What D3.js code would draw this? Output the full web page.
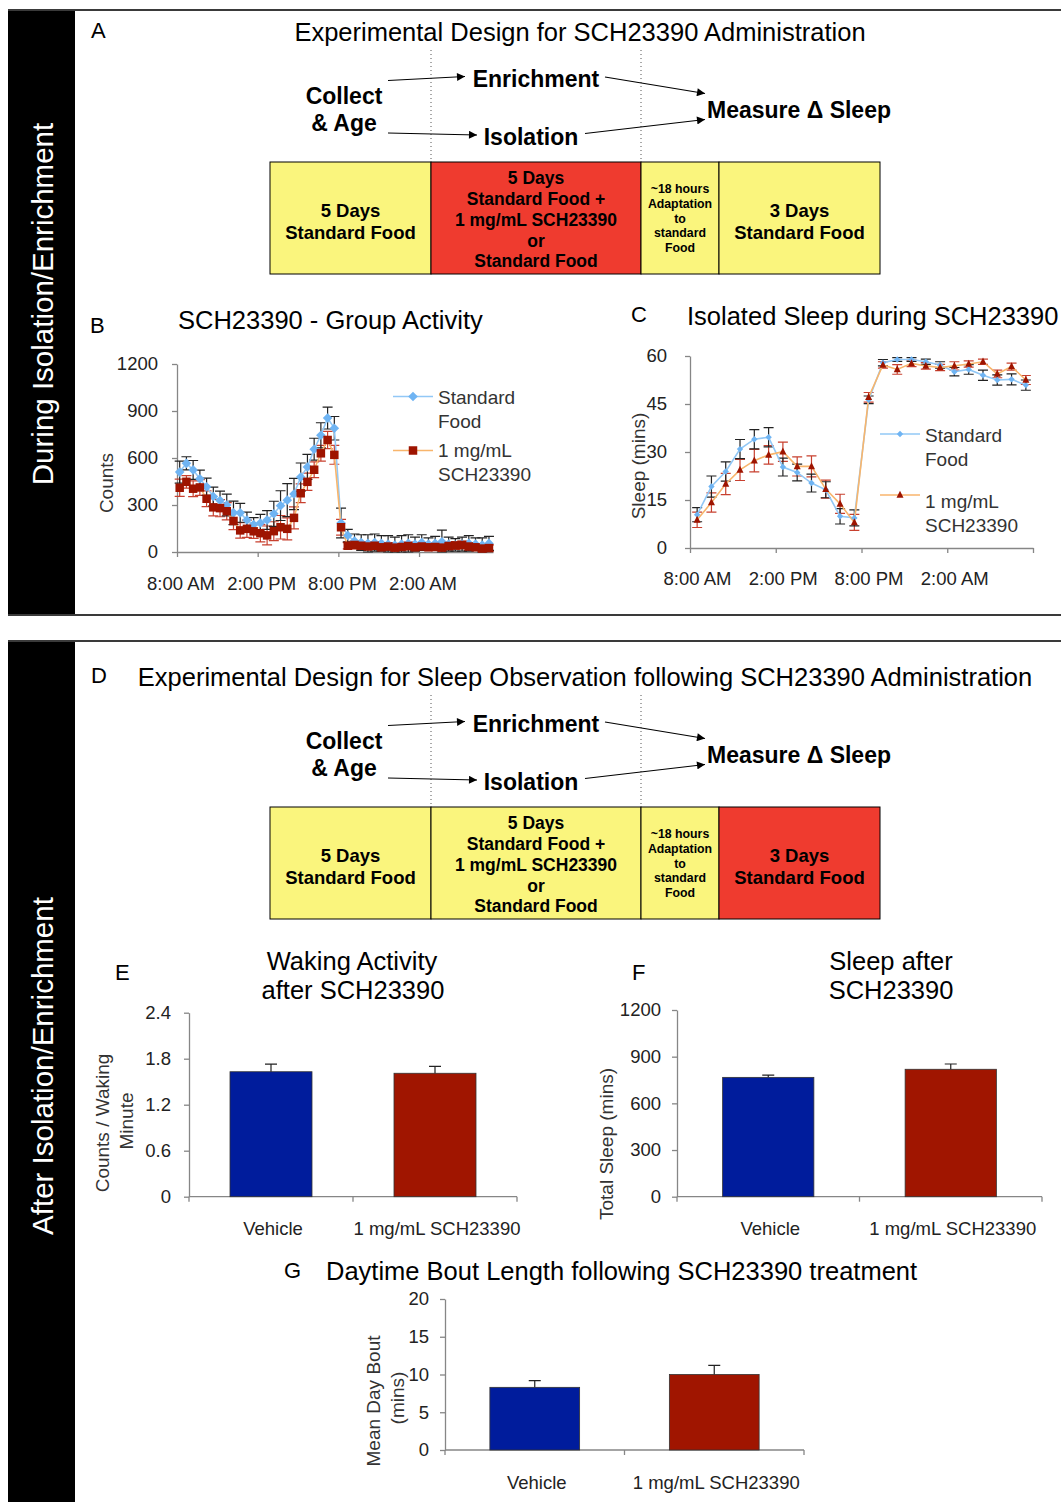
<!DOCTYPE html>
<html><head><meta charset="utf-8">
<script src="https://cdn.jsdelivr.net/npm/d3@7"></script>
<style>
body{margin:0;background:#fff}
svg text{font-family:"Liberation Sans",Arial,Helvetica,sans-serif}
</style></head>
<body><svg id="c" width="1061" height="1502"></svg>
<script>
// ---------------- DATA ----------------
const timeTickLabels = ["8:00 AM", "2:00 PM", "8:00 PM", "2:00 AM"];
const timeTickHours = [0, 6, 12, 18];
const seriesNames = ["Standard Food", "1 mg/mL SCH23390"];

// Panel B: group activity, 30-min bins
const activityStandard = [510,566,524,467,416,354,329,300,250,250,204,175,185,204,244,296,331,370,478,543,656,745,855,790,185,105,
  70,60,55,60,55,50,45,50,55,50,60,50,55,65,50,45,50,55,50,45,55];
const activityStandardErr = [70,42,60,55,55,60,60,70,75,60,50,45,55,60,80,95,105,100,90,80,70,80,70,75,95,40,
  45,50,55,55,50,55,50,55,55,45,50,40,45,75,45,40,45,50,40,45,45];
const activityDrug = [410,448,404,412,340,285,280,260,198,138,148,132,120,106,133,158,148,218,375,448,525,630,715,620,158,40,
  45,40,35,40,30,35,28,32,38,30,35,30,32,28,38,42,45,35,30,22,25];
const activityDrugErr = [55,40,50,50,50,55,55,55,55,50,55,45,55,60,60,75,70,70,60,55,50,50,55,60,50,20,
  25,25,20,25,20,25,20,20,25,20,20,20,20,20,25,25,25,25,20,15,20];
const countTicks = [0, 300, 600, 900, 1200];

// Panel C: isolated sleep, hourly
const sleepStandard = [10.4,19.2,23.9,30.9,34.0,34.6,25.3,23.6,20.3,18.2,9.9,9.4,46.3,57.9,58.9,58.9,58.2,57.2,55.1,55.8,54.0,52.5,52.7,50.9];
const sleepStandardErr = [2.2,3.3,3.0,3.0,3.0,3.0,2.8,2.6,2.8,2.5,2.4,2.5,1.2,1.0,0.6,0.6,0.8,1.0,1.3,1.5,1.6,1.6,1.7,1.6];
const sleepDrug = [8.8,14.2,20.0,24.4,27.3,29.1,30.1,25.5,25.5,18.4,13.8,8.0,47.1,57.2,55.8,57.7,56.9,56.4,56.9,57.5,58.2,54.4,56.7,52.5];
const sleepDrugErr = [2.4,3.0,3.3,3.3,3.5,2.9,3.0,3.0,3.3,2.8,3.0,2.5,1.5,1.0,1.5,1.0,1.0,1.0,1.3,1.0,0.8,1.2,1.1,1.4];
const sleepTicks = [0, 15, 30, 45, 60];

// Bar panels
const barCategories = ["Vehicle", "1 mg/mL SCH23390"];
const wakingActivity = [1.63, 1.61];
const wakingActivityErr = [0.10, 0.09];
const wakingTicks = [0, 0.6, 1.2, 1.8, 2.4];
const totalSleep = [767, 819];
const totalSleepErr = [15, 34];
const totalSleepTicks = [0, 300, 600, 900, 1200];
const dayBout = [8.3, 10.0];
const dayBoutErr = [0.9, 1.2];
const dayBoutTicks = [0, 5, 10, 15, 20];

// Design diagrams
const stageTextsA = [["5 Days","Standard Food"],["5 Days","Standard Food +","1 mg/mL SCH23390","or","Standard Food"],["~18 hours","Adaptation","to","standard","Food"],["3 Days","Standard Food"]];
const stageTextsD = stageTextsA;

// ---------------- DRAWING ----------------
const svg = d3.select("#c");
const YEL = "#faf57d", RED = "#ef3b2f";
const BLUE_BAR = "#001c9c", RED_BAR = "#a01500";
const LBLUE = "#6fb4f3", LBLUE_LINE = "#92c8f6", DRED = "#9e1400", ORANGE = "#f8b56c";

function txt(g, x, y, s, o = {}) {
  const t = g.append("text").attr("x", x).attr("y", y).attr("dy", "0.36em").text(s)
    .attr("font-size", o.size || 18).attr("text-anchor", o.anchor || "start")
    .attr("fill", o.fill || "#000");
  if (o.weight) t.attr("font-weight", o.weight);
  if (o.rotate) t.attr("transform", `rotate(-90 ${x} ${y})`);
  return t;
}

// frames
svg.append("rect").attr("x", 8).attr("y", 10).attr("width", 67).attr("height", 605).attr("fill", "#000");
svg.append("rect").attr("x", 8).attr("y", 641).attr("width", 67).attr("height", 861).attr("fill", "#000");
[10, 615, 641].forEach(y => svg.append("line").attr("x1", 8).attr("x2", 1061).attr("y1", y).attr("y2", y)
  .attr("stroke", "#3a3a3a").attr("stroke-width", 2));
txt(svg, 42, 304, "During Isolation/Enrichment", {size: 29.5, anchor: "middle", fill: "#fff", rotate: true});
txt(svg, 42, 1066, "After Isolation/Enrichment", {size: 29.5, anchor: "middle", fill: "#fff", rotate: true});

// arrow marker
svg.append("defs").append("marker").attr("id", "arr").attr("viewBox", "0 0 10 10")
  .attr("refX", 10).attr("refY", 5).attr("markerWidth", 10).attr("markerHeight", 8)
  .attr("markerUnits", "userSpaceOnUse").attr("orient", "auto")
  .append("path").attr("d", "M0,0L10,5L0,10Z").attr("fill", "#000");

function design(dy, letter, title, titleX, stageTexts, stageColors) {
  const g = svg.append("g").attr("transform", `translate(0,${dy})`);
  txt(g, 91, 30, letter, {size: 22});
  txt(g, titleX, 32, title, {size: 25.5, anchor: "middle"});
  [431, 641].forEach(x => g.append("line").attr("x1", x).attr("x2", x).attr("y1", 50).attr("y2", 162)
    .attr("stroke", "#555").attr("stroke-width", 1).attr("stroke-dasharray", "1,3"));
  const arrows = [[388, 80.5, 465, 76.5], [388, 133, 477, 135], [605, 77, 705, 93.5], [585, 133.5, 705, 119.5]];
  arrows.forEach(a => g.append("line").attr("x1", a[0]).attr("y1", a[1]).attr("x2", a[2]).attr("y2", a[3])
    .attr("stroke", "#000").attr("stroke-width", 1.2).attr("marker-end", "url(#arr)"));
  const B = {size: 23, weight: "bold", anchor: "middle"};
  txt(g, 344, 96, "Collect", B);
  txt(g, 344, 123, "& Age", B);
  txt(g, 536, 79, "Enrichment", B);
  txt(g, 531, 137, "Isolation", B);
  txt(g, 799, 110, "Measure \u0394 Sleep", B);
  const edges = [270, 431, 641, 719, 880];
  const lineYs = [[210, 232.5], [178, 199, 220, 241, 261], [189, 204, 218.5, 233, 247.5], [210, 232.5]];
  const sizes = [18.5, 17.5, 12.3, 18.5];
  stageTexts.forEach((lines, i) => {
    g.append("rect").attr("x", edges[i]).attr("y", 162).attr("width", edges[i + 1] - edges[i]).attr("height", 112)
      .attr("fill", stageColors[i]).attr("stroke", "#000").attr("stroke-width", 1);
    const cx = (edges[i] + edges[i + 1]) / 2;
    lines.forEach((s, j) => txt(g, cx, lineYs[i][j], s, {size: sizes[i], weight: "bold", anchor: "middle"}));
  });
}
design(0, "A", "Experimental Design for SCH23390 Administration", 580, stageTextsA, [YEL, RED, YEL, YEL]);
design(645, "D", "Experimental Design for Sleep Observation following SCH23390 Administration", 585, stageTextsD, [YEL, YEL, YEL, RED]);

// shape helpers
const diamond = r => `M0,${-r}L${r},0L0,${r}L${-r},0Z`;
const square = s => `M${-s/2},${-s/2}h${s}v${s}h${-s}Z`;
const triangle = s => `M0,${-s*0.6}L${s/2},${s*0.4}L${-s/2},${s*0.4}Z`;

function styleAxis(ax, size) {
  ax.select(".domain").attr("stroke", "#868686").attr("stroke-width", 1.3);
  ax.selectAll(".tick line").attr("stroke", "#868686").attr("stroke-width", 1.3);
  ax.selectAll("text").attr("font-size", size || 18.5).attr("fill", "#222")
    .attr("font-family", '"Liberation Sans",Arial,sans-serif');
}

function errBars(g, xs, y, vals, errs, color, cap) {
  g.append("g").selectAll("path").data(vals).join("path")
    .attr("d", (v, i) => {
      const x = xs(i), yt = y(v + errs[i]), yb = y(Math.max(0, v - errs[i]));
      return `M${x - cap},${yt}H${x + cap}M${x},${yt}V${yb}M${x - cap},${yb}H${x + cap}`;
    })
    .attr("fill", "none").attr("stroke", color).attr("stroke-width", 1.2);
}

function lineChart(o) {
  const g = svg.append("g");
  const x = d3.scaleLinear().domain(o.xDomain).range(o.xRange);
  const y = d3.scaleLinear().domain([0, d3.max(o.yTicks)]).range(o.yRange);
  const ay = g.append("g").attr("transform", `translate(${o.xRange[0]},0)`)
    .call(d3.axisLeft(y).tickValues(o.yTicks).tickSize(5).tickSizeOuter(0).tickPadding(o.yPad).tickFormat(d3.format("")));
  styleAxis(ay);
  const ax = g.append("g").attr("transform", `translate(0,${o.yRange[0]})`)
    .call(d3.axisBottom(x).tickValues(o.xTicks).tickSize(5).tickSizeOuter(0).tickPadding(o.xPad)
      .tickFormat((d, i) => o.xLabels[i] || ""));
  styleAxis(ax);
  ax.selectAll("text").attr("dx", o.labelDx);
  const xs = i => x(o.x0 + i * o.step);
  // error bars
  errBars(g, xs, y, o.s2, o.e2, o.err2, o.cap);
  errBars(g, xs, y, o.s1, o.e1, o.err1, o.cap);
  const line = d3.line().x((d, i) => xs(i)).y(d => y(d));
  g.append("path").datum(o.s1).attr("d", line).attr("fill", "none").attr("stroke", LBLUE_LINE).attr("stroke-width", 1.6);
  g.append("path").datum(o.s2).attr("d", line).attr("fill", "none").attr("stroke", ORANGE).attr("stroke-width", 1.6);
  g.append("g").selectAll("path").data(o.s1).join("path")
    .attr("transform", (d, i) => `translate(${xs(i)},${y(d)})`).attr("d", o.m1).attr("fill", LBLUE);
  g.append("g").selectAll("path").data(o.s2).join("path")
    .attr("transform", (d, i) => `translate(${xs(i)},${y(d)})`).attr("d", o.m2).attr("fill", DRED);
  // legend
  const L = o.legend;
  g.append("line").attr("x1", L.x).attr("x2", L.x + 40).attr("y1", L.y1).attr("y2", L.y1).attr("stroke", LBLUE_LINE).attr("stroke-width", 1.6);
  g.append("path").attr("transform", `translate(${L.x + 20},${L.y1})`).attr("d", o.m1).attr("fill", LBLUE);
  g.append("line").attr("x1", L.x).attr("x2", L.x + 40).attr("y1", L.y2).attr("y2", L.y2).attr("stroke", ORANGE).attr("stroke-width", 1.6);
  g.append("path").attr("transform", `translate(${L.x + 20},${L.y2})`).attr("d", o.m2).attr("fill", DRED);
  const n1 = seriesNames[0].split(" "), n2 = ["1 mg/mL", "SCH23390"];
  txt(g, L.x + 45, L.y1 + 1, n1[0], {size: 19, fill: "#333"});
  txt(g, L.x + 45, L.y1 + 25, n1[1], {size: 19, fill: "#333"});
  txt(g, L.x + 45, L.y2 + L.off, n2[0], {size: 19, fill: "#333"});
  txt(g, L.x + 45, L.y2 + L.off + 24, n2[1], {size: 19, fill: "#333"});
  return g;
}

// Panel B
txt(svg, 90, 325, "B", {size: 22});
txt(svg, 178, 320, "SCH23390 - Group Activity", {size: 25.5});
txt(svg, 106, 483, "Counts", {size: 19, anchor: "middle", fill: "#333", rotate: true});
lineChart({
  xDomain: [0, 23.5], xRange: [177, 493], yRange: [552, 364], yTicks: countTicks, yPad: 14,
  xTicks: timeTickHours, xLabels: timeTickLabels, xPad: 20, labelDx: 3.5,
  x0: 0.2, step: 0.5, s1: activityStandard, e1: activityStandardErr, s2: activityDrug, e2: activityDrugErr,
  err1: "#222", err2: "#c8402f", cap: 5, m1: diamond(4.8), m2: square(8.5),
  legend: {x: 393, y1: 396.5, y2: 450.5, off: 0}
});

// Panel C
txt(svg, 631, 314, "C", {size: 22});
txt(svg, 687, 316, "Isolated Sleep during SCH23390", {size: 25.5});
txt(svg, 638, 466, "Sleep (mins)", {size: 19, anchor: "middle", fill: "#333", rotate: true});
lineChart({
  xDomain: [0, 24], xRange: [690, 1033], yRange: [548, 356], yTicks: sleepTicks, yPad: 18,
  xTicks: [0, 6, 12, 18, 24], xLabels: timeTickLabels, xPad: 19, labelDx: 7,
  x0: 0.5, step: 1, s1: sleepStandard, e1: sleepStandardErr, s2: sleepDrug, e2: sleepDrugErr,
  err1: "#222", err2: "#c8402f", cap: 5, m1: diamond(3.2), m2: triangle(7),
  legend: {x: 880, y1: 434, y2: 495, off: 6}
});

// Bar charts
function barChart(o) {
  const g = svg.append("g");
  const x = d3.scaleBand().domain(barCategories).range(o.xRange).paddingInner(0.5).paddingOuter(0.25);
  const y = d3.scaleLinear().domain([0, d3.max(o.ticks)]).range(o.yRange);
  const ay = g.append("g").attr("transform", `translate(${o.xRange[0]},0)`)
    .call(d3.axisLeft(y).tickValues(o.ticks).tickSize(5).tickSizeOuter(0).tickPadding(o.yPad).tickFormat(d3.format("")));
  styleAxis(ay);
  const ax = g.append("g").attr("transform", `translate(0,${o.yRange[0]})`);
  ax.append("line").attr("x1", o.xRange[0]).attr("x2", o.xRange[1]).attr("stroke", "#868686").attr("stroke-width", 1.3);
  const step = (o.xRange[1] - o.xRange[0]) / barCategories.length;
  d3.range(barCategories.length + 1).forEach(i => ax.append("line")
    .attr("x1", o.xRange[0] + i * step).attr("x2", o.xRange[0] + i * step).attr("y1", 0).attr("y2", 5)
    .attr("stroke", "#868686").attr("stroke-width", 1.3));
  const colors = [BLUE_BAR, RED_BAR];
  g.selectAll("rect.bar").data(o.values).join("rect").attr("class", "bar")
    .attr("x", (d, i) => x(barCategories[i])).attr("width", x.bandwidth())
    .attr("y", d => y(d)).attr("height", d => y(0) - y(d))
    .attr("fill", (d, i) => colors[i]).attr("stroke", "#333").attr("stroke-width", 0.8);
  g.selectAll("path.err").data(o.values).join("path").attr("class", "err")
    .attr("d", (d, i) => {
      const cx = x(barCategories[i]) + x.bandwidth() / 2, yt = y(d + o.errs[i]);
      return `M${cx},${y(d)}V${yt}M${cx - 6},${yt}H${cx + 6}`;
    }).attr("stroke", "#222").attr("stroke-width", 1.2).attr("fill", "none");
  barCategories.forEach(c => txt(g, x(c) + x.bandwidth() / 2 + 2, o.labelY, c, {size: 18.5, anchor: "middle", fill: "#222"}));
}

// E
txt(svg, 115, 972, "E", {size: 22});
txt(svg, 352, 961, "Waking Activity", {size: 25.5, anchor: "middle"});
txt(svg, 353, 990, "after SCH23390", {size: 25.5, anchor: "middle"});
txt(svg, 102, 1123, "Counts / Waking", {size: 19, anchor: "middle", fill: "#333", rotate: true});
txt(svg, 126, 1121, "Minute", {size: 19, anchor: "middle", fill: "#333", rotate: true});
barChart({xRange: [189, 517], yRange: [1196.7, 1012.7], ticks: wakingTicks, yPad: 13,
  values: wakingActivity, errs: wakingActivityErr, labelY: 1228});

// F
txt(svg, 632, 972, "F", {size: 22});
txt(svg, 891, 961, "Sleep after", {size: 25.5, anchor: "middle"});
txt(svg, 891, 990, "SCH23390", {size: 25.5, anchor: "middle"});
txt(svg, 606, 1144, "Total Sleep (mins)", {size: 19, anchor: "middle", fill: "#333", rotate: true});
barChart({xRange: [677, 1042], yRange: [1196.7, 1010], ticks: totalSleepTicks, yPad: 11,
  values: totalSleep, errs: totalSleepErr, labelY: 1228});

// G
txt(svg, 284, 1270, "G", {size: 22});
txt(svg, 326, 1271, "Daytime Bout Length following SCH23390 treatment", {size: 25.5});
txt(svg, 373, 1401, "Mean Day Bout", {size: 19, anchor: "middle", fill: "#333", rotate: true});
txt(svg, 397, 1398, "(mins)", {size: 19, anchor: "middle", fill: "#333", rotate: true});
barChart({xRange: [445, 804], yRange: [1450, 1299], ticks: dayBoutTicks, yPad: 11,
  values: dayBout, errs: dayBoutErr, labelY: 1482});
</script></body></html>
